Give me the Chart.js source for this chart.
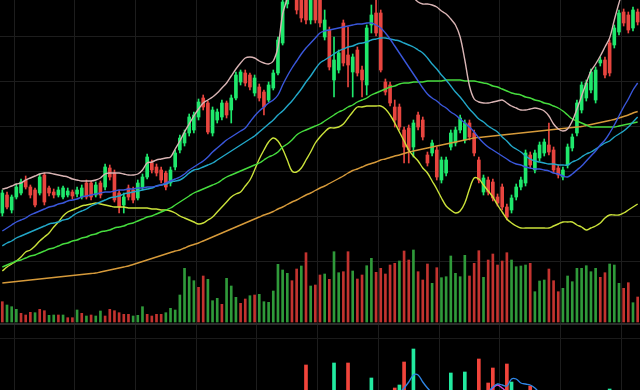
<!DOCTYPE html>
<html><head><meta charset="utf-8">
<script src="https://cdn.jsdelivr.net/npm/chart.js@4.4.1/dist/chart.umd.min.js"></script>
<style>html,body{margin:0;padding:0;background:#000;overflow:hidden}canvas{display:block}</style>
</head><body>
<canvas id="c" width="640" height="390"></canvas>
<script>
const days = Array.from({length: 137}, (_, i) => String(i + 1));

const open = [18.7,20.5,19.0,20.3,20.7,22.0,21.3,21.0,20.7,22.5,
 21.2,20.8,20.5,20.3,20.5,20.8,20.6,20.3,21.7,21.7,
 20.5,21.7,21.3,23.2,22.7,20.7,19.5,21.2,21.0,20.2,
 21.3,22.3,23.7,23.3,23.0,22.7,21.7,23.3,25.0,25.7,
 26.7,27.0,28.3,30.2,29.7,26.7,28.0,28.3,29.7,29.0,
 30.2,31.8,32.7,32.5,30.7,31.3,30.8,30.0,31.2,32.7,
 35.7,39.6,44.5,41.2,40.6,40.0,38.0,40.8,40.0,36.3,
 37.0,32.0,33.0,37.7,34.5,32.8,35.0,33.0,31.5,37.5,
 38.7,38.7,31.8,31.5,29.3,29.3,27.0,27.2,25.3,28.5,
 28.0,24.5,24.7,25.0,22.0,22.7,25.3,25.7,27.0,26.0,
 27.7,26.7,24.0,20.8,22.0,21.8,20.3,21.3,19.3,19.0,
 20.3,21.3,21.7,24.5,23.0,24.2,24.7,25.5,25.0,23.2,
 22.3,23.5,25.2,26.7,29.0,30.2,31.0,30.0,33.7,34.0,
 35.7,35.5,36.8,38.8,38.5,37.2,38.8];
const high = [21.0,20.8,20.5,21.6,22.1,22.4,21.5,21.2,22.6,22.7,
 21.4,21.1,21.3,21.4,21.2,21.0,21.3,21.5,22.0,21.9,
 21.8,21.9,23.6,23.5,23.0,21.0,20.7,21.5,21.3,22.0,
 22.6,24.6,24.0,23.6,23.3,22.9,23.3,25.0,26.5,27.0,
 28.6,28.8,30.1,30.5,29.9,29.3,29.1,30.0,29.9,30.5,
 32.8,33.0,33.0,32.7,32.5,31.6,31.0,31.8,33.0,36.3,
 40.4,43.5,45.2,41.8,41.0,40.4,41.0,41.2,40.5,39.0,
 37.3,36.3,35.0,38.0,37.3,34.6,35.3,33.4,37.5,39.5,
 40.0,39.0,32.1,31.8,30.0,29.6,27.3,27.5,28.0,28.8,
 28.3,24.8,26.0,25.3,24.3,24.3,27.0,27.3,28.5,28.0,
 28.0,27.0,24.3,22.5,22.3,22.1,20.6,21.6,19.6,20.5,
 21.6,22.3,25.0,24.8,25.0,25.8,26.1,27.7,25.3,23.5,
 23.3,25.6,26.6,30.0,31.8,32.0,33.1,33.3,34.3,34.3,
 36.0,37.5,39.0,39.1,38.8,39.3,39.1];
const low = [18.4,19.1,18.7,20.1,20.5,21.1,20.2,19.3,20.5,19.5,
 20.4,20.2,20.3,20.1,20.3,20.1,20.3,20.1,20.1,20.0,
 20.3,20.2,21.0,22.0,19.8,18.7,18.7,20.0,19.7,20.0,
 21.0,22.1,22.7,22.4,21.7,21.0,21.4,23.0,24.7,25.4,
 26.4,26.7,28.0,29.0,26.6,26.4,27.7,28.0,28.2,27.7,
 30.0,31.5,31.4,31.0,30.4,29.9,28.5,29.8,31.0,32.5,
 35.5,39.2,41.5,38.6,37.8,37.6,37.6,37.7,37.3,36.0,
 33.0,30.3,32.7,33.4,31.3,30.3,32.4,30.3,30.5,36.7,
 36.4,32.8,30.5,29.4,27.3,27.0,23.7,23.7,24.3,27.0,
 26.0,23.4,24.4,22.0,21.7,22.4,25.0,25.4,26.7,25.7,
 26.0,24.4,21.7,20.5,20.5,19.9,19.4,19.0,18.0,18.7,
 20.0,21.0,21.4,23.2,22.7,23.9,24.4,24.5,22.7,22.2,
 22.0,23.2,24.9,26.4,28.7,29.9,30.7,29.7,33.4,32.2,
 32.4,35.2,36.5,37.4,36.7,36.9,37.5];
const close = [20.7,19.3,20.3,21.3,21.8,21.3,20.5,19.5,22.3,19.8,
 20.7,20.5,21.0,21.2,20.9,20.4,21.0,21.2,20.3,20.3,
 21.5,20.5,23.3,22.3,20.0,19.3,20.3,20.3,20.0,21.7,
 22.3,24.3,23.0,22.7,22.0,21.3,23.0,24.7,26.2,26.7,
 28.3,28.5,29.8,29.3,26.8,29.0,28.8,29.7,28.5,30.2,
 32.5,32.8,31.7,31.3,32.2,30.2,29.3,31.5,32.7,36.0,
 39.8,42.8,42.0,39.0,38.2,38.0,40.5,38.0,37.7,38.0,
 33.3,34.0,34.7,33.7,33.5,34.3,32.7,32.0,37.2,38.5,
 36.7,33.0,30.8,29.7,28.0,27.3,25.3,25.0,27.7,27.3,
 26.3,23.7,25.7,22.3,24.0,24.0,26.7,27.0,28.2,27.7,
 26.3,24.7,22.0,22.2,20.8,20.2,19.7,19.3,18.3,20.2,
 21.3,22.0,24.7,23.5,24.7,25.5,25.8,24.8,23.0,22.5,
 23.0,25.3,26.3,29.7,31.5,31.7,32.8,33.0,34.0,32.5,
 32.7,37.2,38.7,37.7,37.0,39.0,37.8];

const maPink = [21.1,21.2,21.4,21.6,21.7,22.0,22.2,22.4,22.6,22.7,
 22.7,22.6,22.5,22.4,22.3,22.1,22.0,21.9,21.9,21.9,
 22.0,22.2,22.6,22.7,22.7,22.7,22.6,22.5,22.5,22.6,
 23.0,23.7,23.8,24.0,24.1,24.2,24.3,25.1,25.9,26.8,
 27.6,28.4,29.1,29.7,30.0,30.3,30.7,31.2,31.7,32.4,
 33.1,33.7,34.2,34.3,34.2,33.9,33.7,33.6,33.9,35.3,
 38.6,40.2,42.5,null,null,null,null,null,null,null,
 null,null,null,null,null,null,null,null,null,null,
 null,null,null,null,null,null,null,41.5,40.3,39.8,
 39.6,39.6,39.5,39.3,38.9,38.6,38.1,37.5,36.3,34.0,
 31.4,30.1,29.8,29.7,29.7,29.8,29.9,30.0,29.7,29.4,
 29.2,29.0,29.0,29.1,29.2,29.1,28.9,28.4,27.6,27.1,
 26.9,27.1,27.9,29.1,30.4,31.7,32.9,33.6,34.4,35.3,
 36.2,38.0,39.7,41.2,42.5,43.5,44.2];
const maBlue = [16.9,17.2,17.5,17.8,18.0,18.2,18.5,18.7,18.9,19.1,
 19.3,19.4,19.6,19.7,19.9,20.0,20.1,20.3,20.4,20.5,
 20.6,20.7,20.8,20.8,20.9,21.0,21.0,21.1,21.1,21.2,
 21.2,21.3,21.3,21.4,21.5,21.7,21.9,22.1,22.3,22.6,
 23.0,23.3,23.6,23.9,24.3,24.8,25.2,25.6,26.0,26.3,
 26.6,26.9,27.2,27.8,28.4,28.9,29.3,29.7,30.0,30.5,
 31.5,32.4,33.2,33.9,34.6,35.2,35.7,36.2,36.7,36.9,
 37.0,37.1,37.2,37.3,37.4,37.5,37.6,37.6,37.7,37.7,
 37.5,37.2,36.7,36.1,35.4,34.7,34.0,33.3,32.6,31.9,
 31.2,30.6,30.2,29.9,29.5,29.2,28.8,28.5,28.1,27.7,
 27.3,26.8,26.2,25.7,25.3,25.0,24.7,24.4,24.1,23.8,
 23.6,23.5,23.3,23.2,23.1,23.1,23.0,22.9,22.7,22.6,
 22.4,22.3,22.6,23.0,23.4,23.9,24.4,24.9,25.5,26.0,
 26.7,27.5,28.4,29.3,30.1,31.0,31.7];
const maCyan = [15.4,15.7,15.9,16.2,16.4,16.6,16.8,17.0,17.2,17.4,
 17.6,17.7,17.8,18.0,18.1,18.4,18.7,18.9,19.1,19.4,
 19.6,19.8,20.0,20.2,20.3,20.4,20.6,20.7,20.8,20.9,
 21.0,21.1,21.2,21.4,21.5,21.6,21.8,21.9,22.0,22.3,
 22.7,23.0,23.1,23.3,23.5,23.7,24.0,24.3,24.6,24.9,
 25.2,25.5,25.8,26.1,26.4,26.8,27.2,27.6,28.0,28.5,
 28.9,29.4,29.9,30.5,31.1,31.8,32.4,33.1,33.7,34.0,
 34.3,34.6,34.9,35.1,35.3,35.4,35.6,35.7,35.8,36.0,
 36.1,36.2,36.2,36.1,36.0,35.9,35.7,35.5,35.3,35.0,
 34.7,34.2,33.6,33.1,32.5,32.0,31.4,30.8,30.3,29.7,
 29.1,28.6,28.1,27.8,27.4,27.1,26.8,26.3,25.9,25.4,
 25.1,24.8,24.4,24.1,23.9,23.8,23.7,23.6,23.6,23.5,
 23.5,23.5,23.8,24.0,24.3,24.6,24.8,25.1,25.4,25.7,
 25.9,26.3,26.6,26.9,27.3,27.8,28.3];
const maGreen = [13.3,13.5,13.7,13.9,14.0,14.2,14.4,14.5,14.7,14.9,
 15.1,15.2,15.4,15.6,15.7,15.9,16.0,16.2,16.3,16.5,
 16.6,16.8,16.9,17.0,17.2,17.3,17.4,17.6,17.7,17.9,
 18.1,18.3,18.4,18.6,18.8,19.0,19.2,19.5,19.8,20.1,
 20.4,20.7,20.9,21.1,21.3,21.5,21.7,22.0,22.3,22.5,
 22.7,22.9,23.1,23.3,23.5,23.7,24.0,24.3,24.5,24.8,
 25.3,25.6,26.0,26.5,26.8,27.0,27.2,27.4,27.6,27.9,
 28.2,28.5,28.8,29.0,29.3,29.5,29.8,30.0,30.2,30.5,
 30.7,30.9,31.1,31.3,31.4,31.6,31.7,31.7,31.8,31.8,
 31.8,31.9,31.9,31.9,31.9,32.0,32.0,32.0,32.0,31.9,
 31.9,31.9,31.8,31.7,31.6,31.4,31.3,31.1,30.9,30.7,
 30.6,30.5,30.3,30.2,30.0,29.9,29.7,29.6,29.4,29.2,
 28.9,28.5,28.1,27.9,27.7,27.5,27.3,27.3,27.3,27.3,
 27.3,27.3,27.4,27.5,27.6,27.7,27.8];
const maLime = [12.9,13.3,13.6,13.9,14.3,14.8,15.0,15.4,15.9,16.3,
 16.7,17.3,17.8,18.4,18.8,19.0,19.2,19.4,19.5,19.6,
 19.7,19.6,19.5,19.4,19.3,19.3,19.3,19.2,19.2,19.2,
 19.2,19.2,19.1,19.1,19.0,19.0,18.9,18.7,18.4,18.2,
 18.0,17.8,17.6,17.7,18.0,18.3,18.8,19.3,19.8,20.3,
 20.6,20.8,21.4,22.0,23.0,24.1,25.0,25.8,26.2,25.9,
 25.1,24.0,22.9,22.8,23.2,24.0,24.8,25.7,26.3,26.8,
 27.2,27.2,27.3,27.6,28.2,28.8,29.3,29.3,29.4,29.4,
 29.4,29.4,29.1,28.5,27.7,26.8,25.9,25.0,24.4,23.9,
 23.2,22.7,21.9,21.1,20.2,19.4,19.0,18.7,18.9,19.7,
 21.1,22.2,22.1,21.5,20.9,20.3,19.5,18.8,18.1,17.7,
 17.4,17.2,17.2,17.2,17.2,17.2,17.2,17.2,17.4,17.6,
 17.8,17.8,17.8,17.5,17.3,17.0,17.2,17.4,17.7,18.2,
 18.5,18.5,18.5,18.7,19.0,19.3,19.6];
const maOrange = [11.7,11.75,11.8,11.85,11.9,11.95,12.0,12.05,12.1,12.15,
 12.2,12.25,12.3,12.35,12.4,12.45,12.5,12.55,12.6,12.65,
 12.7,12.8,12.9,13.0,13.1,13.2,13.3,13.4,13.55,13.7,
 13.85,14.0,14.15,14.3,14.45,14.6,14.75,14.9,15.0,15.2,
 15.4,15.55,15.7,15.9,16.1,16.3,16.5,16.7,16.9,17.1,
 17.3,17.5,17.7,17.9,18.1,18.3,18.5,18.65,18.85,19.1,
 19.3,19.55,19.8,20.0,20.25,20.5,20.7,20.95,21.2,21.4,
 21.65,21.9,22.15,22.4,22.7,22.95,23.1,23.3,23.5,23.65,
 23.8,24.0,24.1,24.25,24.4,24.5,24.65,24.8,24.9,25.0,
 25.1,25.2,25.3,25.4,25.5,25.6,25.7,25.8,25.9,26.0,
 26.1,26.2,26.25,26.3,26.35,26.4,26.45,26.5,26.55,26.6,
 26.65,26.7,26.75,26.8,26.85,26.9,26.95,27.0,27.05,27.1,
 27.15,27.2,27.25,27.3,27.35,27.45,27.55,27.65,27.75,27.85,
 27.95,28.05,28.2,28.35,28.5,28.7,28.85];

const volume = [203,170,153,127,87,70,97,93,127,113,
 67,70,70,70,43,43,120,87,60,70,
 60,110,60,127,113,93,77,77,60,67,
 153,77,60,77,77,93,137,120,270,537,
 453,413,347,460,427,213,237,177,437,360,
 247,187,230,263,270,277,203,197,310,577,
 520,487,413,530,560,693,360,370,470,480,
 427,703,493,503,703,510,430,470,563,637,
 497,537,480,570,587,610,710,620,720,503,
 420,580,387,543,443,453,660,487,453,667,
 460,587,713,447,620,680,570,610,693,620,
 553,560,570,587,303,410,420,530,413,303,
 337,460,403,537,537,563,503,537,447,493,
 580,570,387,337,393,193,250];
const volumeUp = [0,1,1,1,0,0,0,1,0,0,
 1,1,0,1,0,0,1,0,1,0,
 1,1,0,0,0,0,0,0,1,1,
 1,0,0,0,0,1,1,1,1,1,
 1,1,0,0,1,1,1,0,1,1,
 1,0,0,1,0,1,1,1,1,1,
 1,1,0,0,1,0,1,0,0,1,
 0,1,1,0,0,1,0,0,1,1,
 0,0,0,0,0,1,0,0,1,0,
 0,0,1,0,1,1,1,1,1,1,
 0,0,0,1,0,0,0,0,0,1,
 1,1,1,0,1,1,1,0,0,0,
 1,1,1,1,1,1,1,1,0,0,
 1,1,1,0,0,1,0];

// MACD panel (index, value)
const macdUpBars = [[71,2.7],[79,1.2],[85,0.5],[88,4.1],[96,1.7],[99,1.8],[109,0.8],[130,0.1]];
const macdDownBars = [[65,2.5],[74,2.7],[84,0.2],[86,2.8],[102,3.1],[104,0.7],[105,2.2],[108,2.6],[113,0.4]];
const difLine = [[84,-0.8],[85,-0.3],[86,0.2],[87,0.8],[88,1.5],[89,1.5],[90,0.8],[91,0.2],[92,-0.3],
 [103,-0.5],[104,-0.2],[105,0.3],[106,0.6],[107,0.5],[108,0.4],[109,1.1],[110,1.1],[111,0.7],[112,0.6],[113,0.5],[114,0.2],[115,-0.3]];
const deaLine = [[103,-0.5],[104,-0.3],[105,0.2],[106,0.5],[107,0.2],[108,-0.2],[109,-0.5]];

const gridPrices = [36.4, 31.9, 27.4, 22.9, 18.4, 13.9];
const panelLines = [6.6, 5.2];

const UP = '#1fe86c', DOWN = '#e8453f';
const VUP = '#2f9a3a', VDOWN = '#c3332f';
const MUP = '#22eaa0', MDOWN = '#f2443b';

const sparse = pairs => { const a = days.map(() => null); pairs.forEach(([i, v]) => { a[i] = v; }); return a; };
const candleColor = days.map((_, i) => close[i] >= open[i] ? UP : DOWN);

const lineDs = (data, color, label) => ({
  type: 'line', label, data, yAxisID: 'y', borderColor: color, borderWidth: 1.4,
  pointRadius: 0, tension: 0.35, spanGaps: false, order: 1
});

new Chart(document.getElementById('c'), {
  type: 'bar',
  data: {
    labels: days,
    datasets: [
      lineDs(maPink, '#d9b4b4', 'MA5'),
      lineDs(maBlue, '#3a57db', 'MA10'),
      lineDs(maCyan, '#22a7c8', 'MA20'),
      lineDs(maGreen, '#46dc3e', 'MA30'),
      lineDs(maLime, '#cbe23a', 'MA60'),
      lineDs(maOrange, '#d69a3a', 'MA120'),
      { label: 'body', data: days.map((_, i) => [open[i], close[i]]), yAxisID: 'y',
        backgroundColor: candleColor, barThickness: 3, minBarLength: 1, grouped: false, order: 2 },
      { label: 'wick', data: days.map((_, i) => [low[i], high[i]]), yAxisID: 'y',
        backgroundColor: candleColor, barThickness: 1, grouped: false, order: 3 },
      { label: 'vol', data: volume, yAxisID: 'yv',
        backgroundColor: volumeUp.map(u => u ? VUP : VDOWN), barThickness: 2, grouped: false, order: 4 },
      { label: 'macdUp', data: sparse(macdUpBars), yAxisID: 'ym', backgroundColor: MUP,
        barThickness: 3, grouped: false, order: 5 },
      { label: 'macdDown', data: sparse(macdDownBars), yAxisID: 'ym', backgroundColor: MDOWN,
        barThickness: 3, grouped: false, order: 5 },
      { type: 'line', label: 'DIF', data: sparse(difLine), yAxisID: 'ym', borderColor: '#2f86e6',
        borderWidth: 1.3, pointRadius: 0, tension: 0.35, order: 1 },
      { type: 'line', label: 'DEA', data: sparse(deaLine), yAxisID: 'ym', borderColor: '#d046d6',
        borderWidth: 1.3, pointRadius: 0, tension: 0.35, order: 1 }
    ]
  },
  options: {
    responsive: false,
    animation: false,
    events: [],
    layout: { padding: 0 },
    plugins: { legend: { display: false }, tooltip: { enabled: false } },
    scales: {
      x: {
        offset: true,
        ticks: { display: false, autoSkip: false },
        border: { display: false },
        grid: { drawTicks: false, offset: true,
          color: ctx => (ctx.index % 13 === 3 ? '#1d1d1d' : 'rgba(0,0,0,0)') }
      },
      y: {
        min: 1, max: 40,
        ticks: { display: false },
        border: { display: false },
        grid: { drawTicks: false, color: '#1d1d1d' },
        afterBuildTicks: axis => { axis.ticks = gridPrices.map(v => ({ value: v })); }
      },
      yv: {
        min: -680, max: 3220, display: false
      },
      ym: {
        min: 0, max: 39,
        ticks: { display: false },
        border: { display: false },
        grid: { drawTicks: false,
          color: ctx => (ctx.tick && ctx.tick.value === 6.6 ? '#2b2b2b' : '#1a1a1a'),
          lineWidth: ctx => (ctx.tick && ctx.tick.value === 6.6 ? 2 : 1) },
        afterBuildTicks: axis => { axis.ticks = panelLines.map(v => ({ value: v })); }
      }
    }
  }
});
</script>
</body></html>
